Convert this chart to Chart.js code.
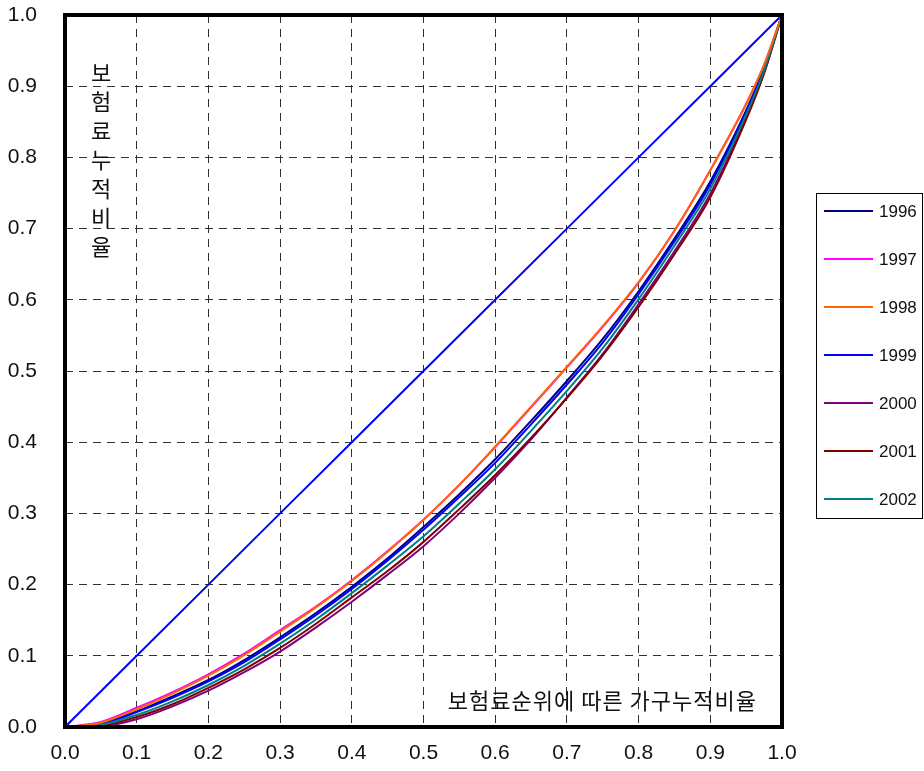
<!DOCTYPE html>
<html>
<head>
<meta charset="utf-8">
<script src="https://cdn.jsdelivr.net/npm/chart.js@4.4.1/dist/chart.umd.min.js"></script>
<style>
  html, body { margin: 0; padding: 0; background: #fff; }
</style>
</head>
<body>
<canvas id="lorenzChart" width="924" height="771"></canvas>
<script>
// 가구누적비율 (x) 과 연도별 보험료누적비율 (y)
const shares = [0, 0.05, 0.1, 0.15, 0.2, 0.25, 0.3, 0.35, 0.4, 0.45, 0.5, 0.55, 0.6, 0.65, 0.7, 0.75, 0.8, 0.85, 0.9, 0.95, 0.975, 1];
const years = ['1996', '1997', '1998', '1999', '2000', '2001', '2002'];
const yearColors = ['#000080', '#ff00ff', '#ff6600', '#0000ff', '#800080', '#800000', '#008080'];
const drawOrder = [3, 6, 0, 2, 5, 4, 1];

const y1996 = [0, 0.005, 0.022, 0.043, 0.066, 0.094, 0.126, 0.160, 0.197, 0.237, 0.281, 0.327, 0.376, 0.430, 0.486, 0.545, 0.612, 0.686, 0.766, 0.866, 0.925, 1];
const y1997 = [0, 0.007, 0.027, 0.049, 0.074, 0.103, 0.136, 0.169, 0.206, 0.247, 0.291, 0.340, 0.393, 0.449, 0.505, 0.562, 0.624, 0.697, 0.782, 0.875, 0.930, 1];
const y1998 = [0, 0.006, 0.025, 0.047, 0.072, 0.101, 0.134, 0.168, 0.205, 0.246, 0.291, 0.340, 0.394, 0.450, 0.506, 0.563, 0.625, 0.697, 0.782, 0.875, 0.930, 1];
const y1999 = [0, 0.004, 0.021, 0.041, 0.064, 0.091, 0.123, 0.157, 0.194, 0.234, 0.277, 0.323, 0.371, 0.425, 0.481, 0.540, 0.608, 0.682, 0.762, 0.864, 0.924, 1];
const y2000 = [0, 0.001, 0.011, 0.029, 0.051, 0.077, 0.106, 0.140, 0.176, 0.214, 0.254, 0.300, 0.350, 0.404, 0.463, 0.524, 0.594, 0.668, 0.749, 0.856, 0.919, 1];
const y2001 = [0, 0.002, 0.014, 0.032, 0.055, 0.081, 0.111, 0.145, 0.182, 0.219, 0.260, 0.306, 0.354, 0.406, 0.462, 0.522, 0.590, 0.664, 0.744, 0.853, 0.918, 1];
const y2002 = [0, 0.003, 0.017, 0.036, 0.059, 0.086, 0.117, 0.151, 0.188, 0.227, 0.268, 0.314, 0.362, 0.416, 0.472, 0.532, 0.601, 0.676, 0.756, 0.860, 0.922, 1];

// 완전균등선
const equalX = [0, 0.1, 0.2, 0.3, 0.4, 0.5, 0.6, 0.7, 0.8, 0.9, 1];
const equalY = [0, 0.1, 0.2, 0.3, 0.4, 0.5, 0.6, 0.7, 0.8, 0.9, 1];

const axisTicks = [0, 0.1, 0.2, 0.3, 0.4, 0.5, 0.6, 0.7, 0.8, 0.9, 1];

const yLabelChars = ['보', '험', '료', '누', '적', '비', '율'];
const xLabel = '보험료순위에 따른 가구누적비율';

const seriesList = [y1996, y1997, y1998, y1999, y2000, y2001, y2002];

const toPoints = (xs, ys) => xs.map((x, i) => ({ x: x, y: ys[i] }));

const datasets = seriesList.map((ys, i) => ({
    label: years[i],
    data: toPoints(shares, ys),
    borderColor: yearColors[i],
    backgroundColor: yearColors[i],
    borderWidth: 2,
    pointRadius: 0,
    cubicInterpolationMode: 'monotone',
    order: drawOrder[i],
    fill: false
}));
datasets.push({
    label: '',
    data: toPoints(equalX, equalY),
    borderColor: '#0000ff',
    borderWidth: 2,
    pointRadius: 0,
    order: 10,
    fill: false
});

const koreanFont = "'Noto Sans CJK KR', sans-serif";

// 그림틀, 축 제목, 범례 상자
const framePlugin = {
    id: 'frame',
    afterDatasetsDraw(chart) {
        const { ctx, chartArea: a } = chart;
        ctx.save();
        ctx.strokeStyle = '#000';
        ctx.lineWidth = 4;
        ctx.strokeRect(a.left, a.top, a.right - a.left, a.bottom - a.top);
        ctx.restore();
    }
};

const titlePlugin = {
    id: 'axisTitles',
    afterDraw(chart) {
        const ctx = chart.ctx;
        ctx.save();
        ctx.fillStyle = '#111';
        ctx.font = '22px ' + koreanFont;
        ctx.textAlign = 'center';
        ctx.textBaseline = 'middle';
        yLabelChars.forEach((ch, i) => ctx.fillText(ch, 101, 73 + i * 29));
        ctx.textAlign = 'right';
        ctx.letterSpacing = '1px';
        ctx.fillText(xLabel, 757, 701);
        ctx.restore();
    }
};

const boxLegendPlugin = {
    id: 'boxLegend',
    afterDraw(chart) {
        const ctx = chart.ctx;
        ctx.save();
        ctx.fillStyle = '#fff';
        ctx.fillRect(816, 193, 106, 325);
        ctx.strokeStyle = '#000';
        ctx.lineWidth = 1;
        ctx.strokeRect(816.5, 193.5, 106, 325);
        ctx.font = "17px 'Liberation Sans', Arial, sans-serif";
        ctx.textBaseline = 'middle';
        ctx.textAlign = 'left';
        chart.data.datasets.filter(d => d.label).forEach((d, i) => {
            const y = 211 + i * 48;
            ctx.strokeStyle = d.borderColor;
            ctx.lineWidth = 2;
            ctx.beginPath();
            ctx.moveTo(824, y);
            ctx.lineTo(873, y);
            ctx.stroke();
            ctx.fillStyle = '#111';
            ctx.fillText(d.label, 879, y + 1);
        });
        ctx.restore();
    }
};

const gridStyle = {
    color: '#333',
    lineWidth: 1,
    drawTicks: false
};

const tickFont = { family: "'Liberation Sans', Arial, sans-serif", size: 21 };

const chart = new Chart(document.getElementById('lorenzChart').getContext('2d'), {
    type: 'line',
    data: { datasets: datasets },
    options: {
        responsive: false,
        animation: false,
        devicePixelRatio: 1,
        layout: { autoPadding: false, padding: { left: 0, right: 142, top: 15, bottom: 0 } },
        plugins: {
            legend: { display: false },
            tooltip: { enabled: false }
        },
        scales: {
            x: {
                type: 'linear',
                min: 0,
                max: 1,
                afterBuildTicks: s => { s.ticks = axisTicks.map(v => ({ value: v })); },
                afterFit: s => { s.height = 44; s.paddingLeft = 0; s.paddingRight = 0; s.paddingTop = 0; s.paddingBottom = 0; },
                grid: gridStyle,
                border: { display: false, dash: [8, 6] },
                ticks: {
                    color: '#111',
                    font: tickFont,
                    padding: 14,
                    maxRotation: 0,
                    callback: v => v.toFixed(1)
                }
            },
            y: {
                type: 'linear',
                min: 0,
                max: 1,
                afterBuildTicks: s => { s.ticks = axisTicks.map(v => ({ value: v })); },
                afterFit: s => { s.width = 65; s.paddingTop = 0; s.paddingBottom = 0; s.paddingLeft = 0; s.paddingRight = 0; },
                grid: gridStyle,
                border: { display: false, dash: [8, 6] },
                ticks: {
                    color: '#111',
                    font: tickFont,
                    padding: 28,
                    callback: v => v.toFixed(1)
                }
            }
        }
    },
    plugins: [framePlugin, titlePlugin, boxLegendPlugin]
});
</script>
</body>
</html>
